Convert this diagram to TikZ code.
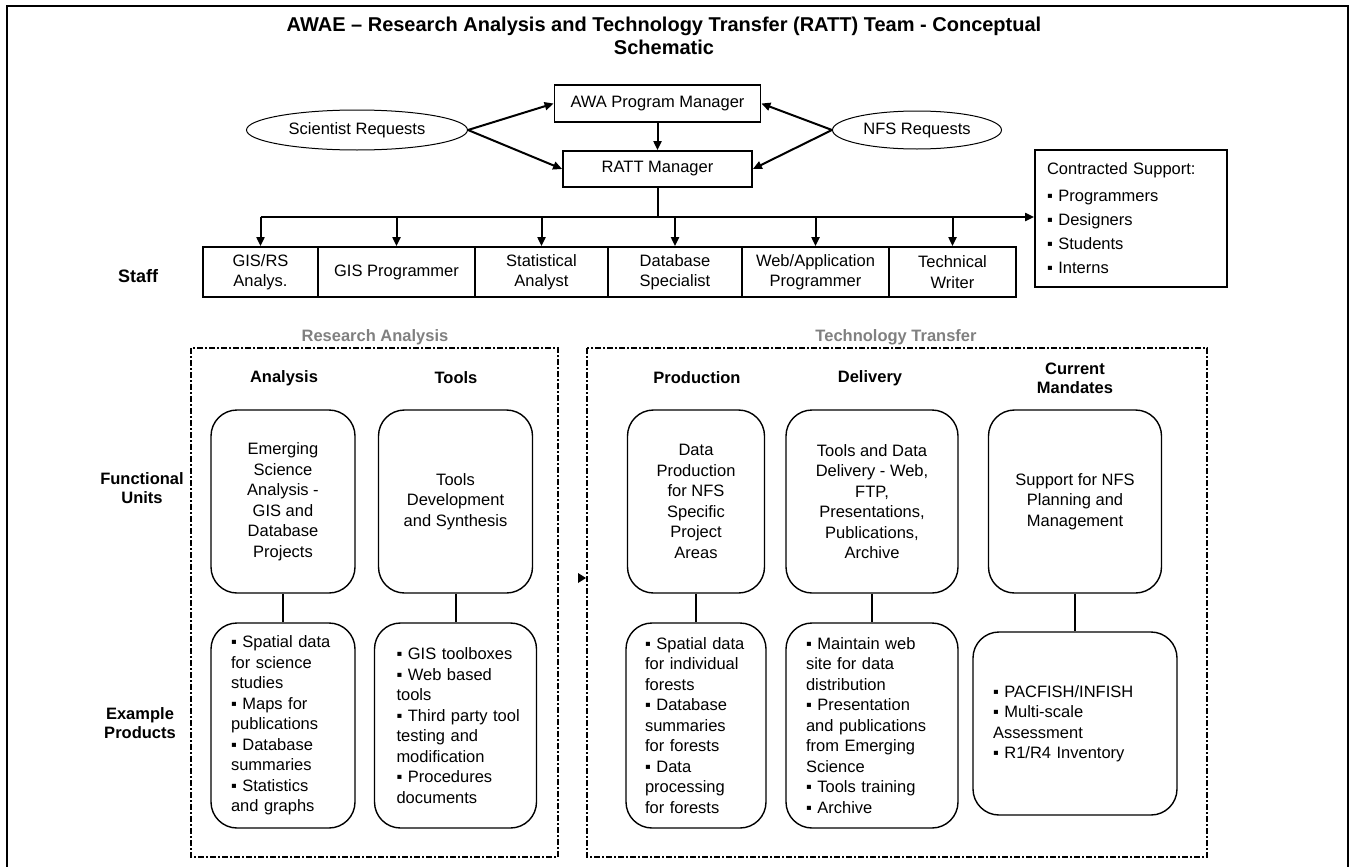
\documentclass[tikz,border=0pt]{standalone}
\usepackage{fontspec}
\setmainfont{Liberation Sans}
\usetikzlibrary{arrows.meta,shapes.geometric}
\begin{document}
\begin{tikzpicture}[x=0.5pt, y=-0.5pt,
    font=\fontsize{8.25}{10.25}\selectfont,
    arr/.style={-{Triangle[length=4.5pt,width=4pt]}, line width=1pt},
    link/.style={line width=1pt},
    box/.style={draw, line width=0.9pt, inner sep=0pt, align=center},
    oval/.style={draw, ellipse, line width=0.5pt, inner sep=0pt},
    unit/.style={draw, rounded corners=13pt, line width=0.7pt, align=center, minimum height=91.5pt, inner sep=0pt},
    product/.style={draw, rounded corners=13pt, line width=0.7pt, align=left, minimum height=102.5pt, inner ysep=0pt},
    head/.style={font=\fontsize{8.25}{9.5}\selectfont\bfseries, align=center},
    section/.style={head, text=black!50},
    frame/.style={line width=1pt, dash pattern=on 3pt off 1pt on 1pt off 1pt}]
  \useasboundingbox (0,0) rectangle (1349,867);
  \draw[line width=1pt] (7,6) rectangle (1348,890);

  \node[font=\fontsize{10}{11.5}\selectfont\bfseries, align=center] (title) at (664,35.5)
    {AWAE -- Research Analysis and Technology Transfer (RATT) Team - Conceptual\\Schematic};

  \node[box, minimum width=103pt, minimum height=18.5pt] (awa) at (657.5,103.5) {AWA Program Manager};
  \node[box, minimum width=94.5pt, minimum height=18pt] (ratt) at (657.5,169) {RATT Manager};
  \node[oval, minimum width=110.5pt, minimum height=20pt] (sci) at (357,130) {Scientist Requests};
  \node[oval, minimum width=84.5pt, minimum height=19pt] (nfs) at (917,130) {NFS Requests};
  \draw[arr] (sci.east) -- (awa.west);
  \draw[arr] (sci.east) -- (ratt.west);
  \draw[arr] (nfs.west) -- (awa.east);
  \draw[arr] (nfs.west) -- (ratt.east);
  \draw[arr] (awa) -- (ratt);

  \node[box, align=left, text width=84pt, minimum height=68.5pt, inner xsep=6pt,
    font=\fontsize{8.25}{12}\selectfont] (cs) at (1131,218.5)
    {Contracted Support:\\[1.5pt]▪ Programmers\\▪ Designers\\▪ Students\\▪ Interns};

  \coordinate (bus) at (657.5,217);
  \draw[link] (ratt) -- (bus);
  \foreach \nm/\cx/\w/\txt in {s1/260.5/57.5/{GIS/RS\\Analys.}, s2/396.5/78.5/{GIS Programmer},
      s3/541.5/66.5/{Statistical\\Analyst}, s4/675/67/{Database\\Specialist},
      s5/815.5/73.5/{Web/Application\\Programmer}, s6/952.5/63.5/{Technical\\Writer}} {
    \node[box, minimum width=\w pt, minimum height=25pt] (\nm) at (\cx,272) {\txt};
    \draw[arr] (bus -| \nm.north) -- (\nm.north);
  }
  \draw[arr] (bus -| s1.north) -- (bus -| cs.west);

  \node[head, font=\fontsize{9}{10}\selectfont\bfseries] (staff) at (138,276) {Staff};
  \node[head] (funits) at (142,488.5) {Functional\\Units};
  \node[head] (eprod) at (140,723.5) {Example\\Products};

  \node[section] (ra) at (375,337) {Research Analysis};
  \node[section] (tt) at (896,337) {Technology Transfer};
  \draw[frame] (191,348) rectangle (558,857);
  \draw[frame] (587,348) rectangle (1207,857);
  \fill (578,573) -- (586,578) -- (578,583) -- cycle;

  \node[head] (hAna) at (284,378) {Analysis};
  \node[head] (hTool) at (456,378) {Tools};
  \node[head] (hProd) at (697,378) {Production};
  \node[head] (hDel) at (870,378) {Delivery};
  \node[head] (hMan) at (1075,378) {Current\\Mandates};

  \node[unit, minimum width=72pt] (uAna) at (283,501.5)
    {Emerging\\Science\\Analysis -\\GIS and\\Database\\Projects};
  \node[unit, minimum width=77pt] (uTool) at (455.5,501.5)
    {Tools\\Development\\and Synthesis};
  \node[unit, minimum width=68.5pt] (uProd) at (696,501.5)
    {Data\\Production\\for NFS\\Specific\\Project\\Areas};
  \node[unit, minimum width=86pt] (uDel) at (872,501.5)
    {Tools and Data\\Delivery - Web,\\FTP,\\Presentations,\\Publications,\\Archive};
  \node[unit, minimum width=86.5pt] (uMan) at (1075,501.5)
    {Support for NFS\\Planning and\\Management};

  \node[product, text width=52pt, inner xsep=10pt] (pAna) at (283,725.5)
    {▪ Spatial data\\for science\\studies\\▪ Maps for\\publications\\▪ Database\\summaries\\▪ Statistics\\and graphs};
  \node[product, text width=59pt, inner xsep=11pt] (pTool) at (455.5,725.5)
    {▪ GIS toolboxes\\▪ Web based\\tools\\\mbox{▪ Third party tool}\\testing and\\modification\\▪ Procedures\\documents};
  \node[product, text width=51pt, inner xsep=9.5pt] (pProd) at (696,725.5)
    {▪ Spatial data\\for individual\\forests\\▪ Database\\summaries\\for forests\\▪ Data\\processing\\for forests};
  \node[product, text width=66pt, inner xsep=10pt] (pDel) at (872,725.5)
    {▪ Maintain web\\site for data\\distribution\\▪ Presentation\\and publications\\from Emerging\\Science\\▪ Tools training\\▪ Archive};
  \node[product, text width=82pt, inner xsep=10pt, minimum height=91.5pt] (pMan) at (1075,723.5)
    {▪ PACFISH/INFISH\\▪ Multi-scale\\Assessment\\▪ R1/R4 Inventory};

  \draw[link] (uAna) -- (pAna);
  \draw[link] (uTool) -- (pTool);
  \draw[link] (uProd) -- (pProd);
  \draw[link] (uDel) -- (pDel);
  \draw[link] (uMan) -- (pMan);
\end{tikzpicture}
\end{document}
